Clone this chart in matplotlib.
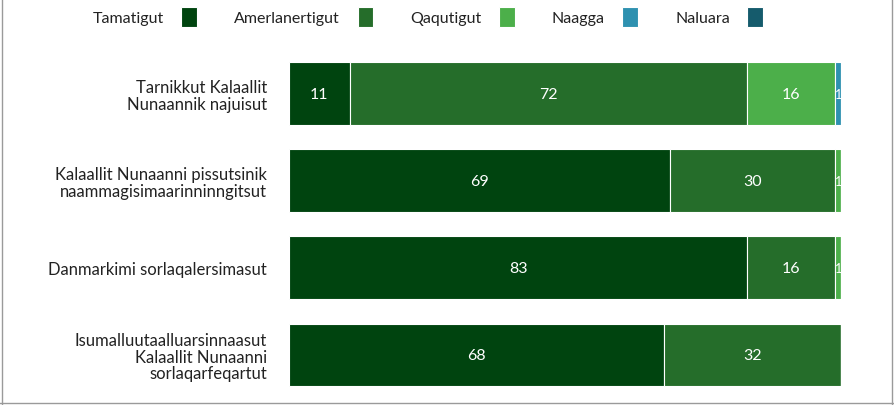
import matplotlib
matplotlib.use('Agg')
import matplotlib.pyplot as plt
from matplotlib.lines import Line2D
import numpy as np

plt.rcParams['font.family'] = ['Lato', 'DejaVu Sans']

categories = [
    'Tarnikkut Kalaallit\nNunaannik najuisut',
    'Kalaallit Nunaanni pissutsinik\nnaammagisimaarinninngitsut',
    'Danmarkimi sorlaqalersimasut',
    'Isumalluutaalluarsinnaasut\nKalaallit Nunaanni\nsorlaqarfeqartut',
]
series_names = ['Tamatigut', 'Amerlanertigut', 'Qaqutigut', 'Naagga', 'Naluara']
tamatigut = [11, 69, 83, 68]
amerlanertigut = [72, 30, 16, 32]
qaqutigut = [16, 1, 1, 0]
naagga = [1, 0, 0, 0]
naluara = [0, 0, 0, 0]
colors = ['#00440f', '#256d2a', '#4caf4a', '#2e91b0', '#155b6c']

series = [tamatigut, amerlanertigut, qaqutigut, naagga, naluara]

fig = plt.figure(figsize=(8.94, 4.06), dpi=100)
ax = fig.add_axes([289 / 894, 1 - 399.5 / 406, 552 / 894, 348.5 / 406])

y = np.arange(len(categories))
left = np.zeros(len(categories))
handles = []
for name, vals, col in zip(series_names, series, colors):
    vals = np.array(vals, dtype=float)
    bars = ax.barh(y, vals, left=left, height=0.72, color=col,
                   edgecolor='white', linewidth=0.8, label=name)
    handles.append(bars)
    for yi, v, l in zip(y, vals, left):
        if v > 0:
            ax.text(l + v / 2, yi, f'{int(v)}', ha='center', va='center',
                    color='white', fontsize=11.5 if v > 2 else 9)
    left += vals

ax.set_xlim(0, 100)
ax.set_ylim(len(categories) - 0.5, -0.5)
ax.set_yticks(y)
ax.set_yticklabels(categories, fontsize=12, color='#222222', linespacing=1.05)
ax.tick_params(axis='y', length=0, pad=16)
ax.set_xticks([])
for s in ax.spines.values():
    s.set_visible(False)

leg = fig.legend(handles=handles, labels=series_names, loc='center',
                 bbox_to_anchor=(428 / 894, 1 - 18 / 406), ncol=5,
                 frameon=False, markerfirst=False, fontsize=11.5,
                 handlelength=1.0, handleheight=1.5, handletextpad=1.1,
                 columnspacing=2.3)
for t in leg.get_texts():
    t.set_color('#222222')

# figure border (left, right, bottom)
bc = '#9a9a9a'
fig.add_artist(Line2D([1.5 / 894, 1.5 / 894], [0, 1], color=bc, lw=1, transform=fig.transFigure))
fig.add_artist(Line2D([892 / 894, 892 / 894], [0, 1], color=bc, lw=1, transform=fig.transFigure))
fig.add_artist(Line2D([0, 1], [2 / 406, 2 / 406], color=bc, lw=1, transform=fig.transFigure))

fig.savefig('out.png', dpi=100)
